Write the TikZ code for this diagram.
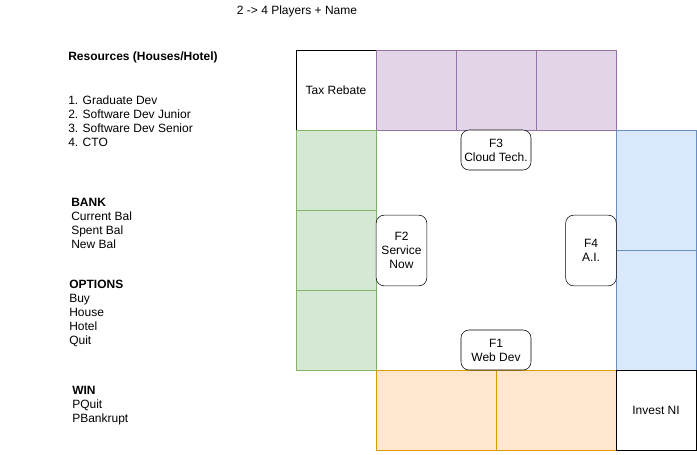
\documentclass[tikz,border=0pt]{standalone}
\usepackage{fontspec}
\setmainfont{Liberation Sans}
\usetikzlibrary{positioning}

\definecolor{greenfill}{HTML}{D5E8D4}
\definecolor{greenline}{HTML}{82B366}
\definecolor{purplefill}{HTML}{E1D5E7}
\definecolor{purpleline}{HTML}{9673A6}
\definecolor{bluefill}{HTML}{DAE8FC}
\definecolor{blueline}{HTML}{6C8EBF}
\definecolor{orangefill}{HTML}{FFE6CC}
\definecolor{orangeline}{HTML}{D79B00}

\begin{document}
\begin{tikzpicture}[x=0.75pt, y=-0.75pt,
  every node/.style={font=\fontsize{9}{10.5}\selectfont, inner sep=0pt},
  cell/.style={draw, outer sep=0pt, minimum width=60pt, minimum height=60pt},
  purplecell/.style={cell, fill=purplefill, draw=purpleline},
  greencell/.style={cell, fill=greenfill, draw=greenline},
  bluecell/.style={cell, fill=bluefill, draw=blueline, minimum height=90pt},
  orangecell/.style={cell, fill=orangefill, draw=orangeline, minimum width=90pt},
  fbox/.style={draw, rounded corners=6pt, fill=white, align=center},
  notes/.style={anchor=west, align=left}]
\useasboundingbox (0,0) rectangle (697,454);

% title and notes
\node (title) at (297,11) {2 -> 4 Players + Name};
\node[notes] (res) at (68,57) {\bfseries Resources (Houses/Hotel)};
\node[notes] (levels) at (68,121) {1. Graduate Dev\\2. Software Dev Junior\\3. Software Dev Senior\\4. CTO};
\node[notes] (bank) at (71,223) {\bfseries BANK\\Current Bal\\Spent Bal\\New Bal};
\node[notes] (options) at (69,313) {\bfseries OPTIONS\\Buy\\House\\Hotel\\Quit};
\node[notes] (win) at (72,406) {\bfseries WIN\\PQuit\\PBankrupt};

% board
\node[cell] (tax) at (336,90) {Tax Rebate};
\node[purplecell, right=0pt of tax] (top1) {};
\node[purplecell, right=0pt of top1] (top2) {};
\node[purplecell, right=0pt of top2] (top3) {};
\node[greencell, below=0pt of tax] (left1) {};
\node[greencell, below=0pt of left1] (left2) {};
\node[greencell, below=0pt of left2] (left3) {};
\node[bluecell, anchor=north west] (right1) at (top3.south east) {};
\node[bluecell, below=0pt of right1] (right2) {};
\node[orangecell, anchor=north west] (bot1) at (left3.south east) {};
\node[orangecell, right=0pt of bot1] (bot2) {};
\node[cell, right=0pt of bot2] (invest) {Invest NI};

% fields
\node[fbox, minimum width=52.5pt, minimum height=30pt] (f3) at (496,150) {F3\\Cloud Tech.};
\node[fbox, minimum width=52.5pt, minimum height=30pt] (f1) at (496,350) {F1\\Web Dev};
\node[fbox, minimum width=38pt, minimum height=53pt] (f2) at (401.5,250.5) {F2\\Service\\Now};
\node[fbox, minimum width=38pt, minimum height=53pt] (f4) at (591,250.5) {F4\\A.I.};
\end{tikzpicture}
\end{document}
